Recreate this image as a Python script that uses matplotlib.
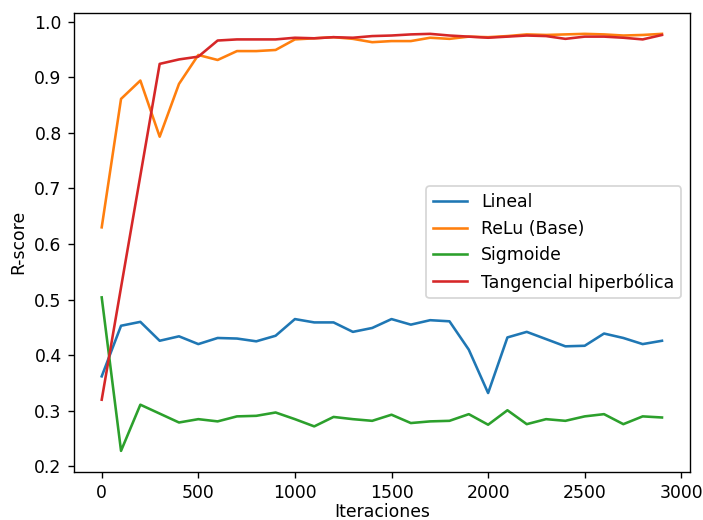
import numpy as np
import matplotlib
matplotlib.use("Agg")
import matplotlib.pyplot as plt

# iteraciones (cada 100)
iteraciones = np.arange(0, 3000, 100)

# R-score por funcion de activacion
lineal = [0.362, 0.453, 0.460, 0.426, 0.434, 0.420, 0.431, 0.430, 0.425, 0.435,
          0.465, 0.459, 0.459, 0.442, 0.449, 0.465, 0.455, 0.463, 0.461, 0.410,
          0.332, 0.432, 0.442, 0.429, 0.416, 0.417, 0.439, 0.431, 0.420, 0.426]
relu = [0.630, 0.861, 0.894, 0.793, 0.888, 0.940, 0.931, 0.947, 0.947, 0.949,
        0.968, 0.970, 0.972, 0.969, 0.963, 0.965, 0.965, 0.971, 0.969, 0.973,
        0.972, 0.974, 0.977, 0.976, 0.977, 0.978, 0.977, 0.975, 0.976, 0.978]
sigmoide = [0.504, 0.228, 0.311, 0.295, 0.279, 0.285, 0.281, 0.290, 0.291, 0.297,
            0.285, 0.272, 0.289, 0.285, 0.282, 0.293, 0.278, 0.281, 0.282, 0.294,
            0.275, 0.301, 0.276, 0.285, 0.282, 0.290, 0.294, 0.276, 0.290, 0.288]
tanh = [0.320, 0.522, 0.723, 0.924, 0.932, 0.937, 0.966, 0.968, 0.968, 0.968,
        0.971, 0.970, 0.972, 0.971, 0.974, 0.975, 0.977, 0.978, 0.975, 0.973,
        0.971, 0.973, 0.975, 0.974, 0.969, 0.973, 0.973, 0.971, 0.968, 0.976]

etiquetas = ["Lineal", "ReLu (Base)", "Sigmoide", "Tangencial hiperbólica"]

# el original parece un render a mayor escala: dpi alto, mismo tamaño en pixeles
DPI = 124
W, H = 703, 520
fig = plt.figure(figsize=(W / DPI, H / DPI), dpi=DPI)
ax = fig.add_axes([73.7 / W, (H - 471.7) / H, (690 - 73.7) / W, (471.7 - 13) / H])

for serie, etiqueta in zip([lineal, relu, sigmoide, tanh], etiquetas):
    ax.plot(iteraciones, serie, label=etiqueta)

# labelpad menor para que el texto quepa entero en la imagen
ax.set_xlabel("Iteraciones", labelpad=1)
ax.set_ylabel("R-score")
ax.set_xticks([0, 500, 1000, 1500, 2000, 2500, 3000])
ax.set_yticks(np.arange(0.2, 1.01, 0.1))
ax.legend(loc="center right")

fig.savefig("out.png", dpi=DPI)
